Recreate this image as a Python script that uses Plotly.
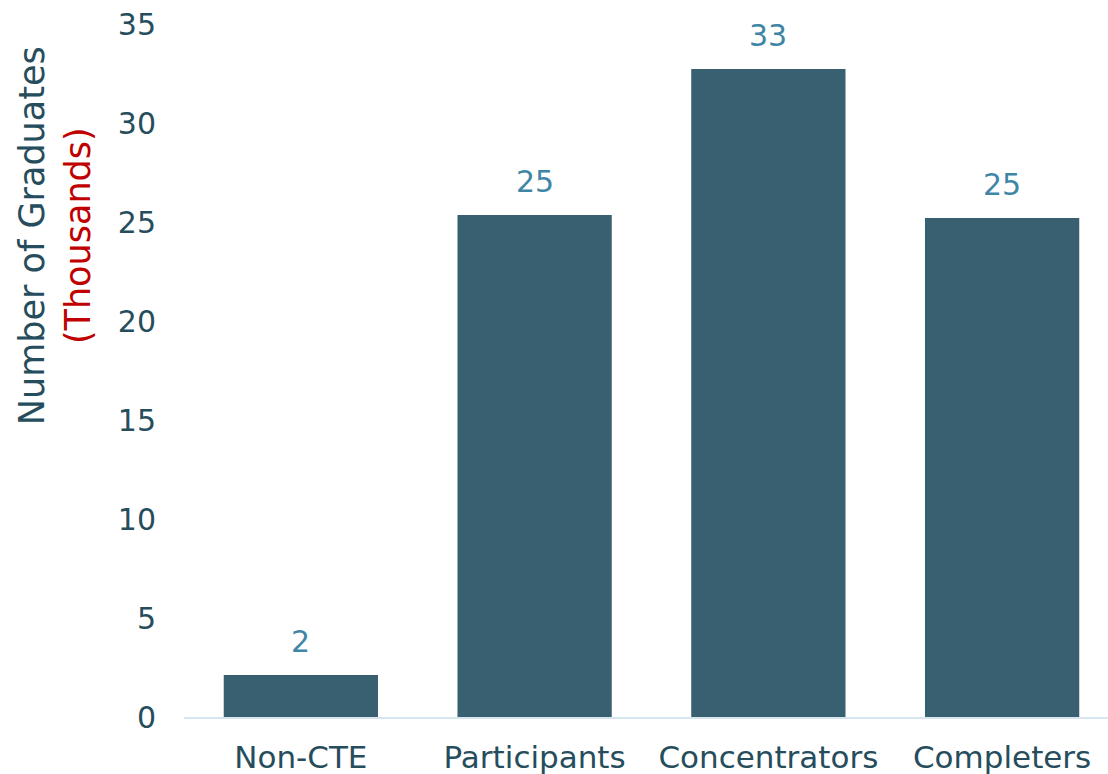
import plotly.graph_objects as go

categories = ["Non-CTE", "Participants", "Concentrators", "Completers"]
values = [2.12, 25.35, 32.73, 25.2]
labels = ["2", "25", "33", "25"]
y_ticks = [0, 5, 10, 15, 20, 25, 30, 35]

BAR = "#386071"
TXT = "#264d5c"
LBL = "#3f86a6"
FONT = "DejaVu Sans"

fig = go.Figure()
fig.add_trace(go.Bar(x=categories, y=values, marker=dict(color=BAR, line=dict(width=0)),
                     hoverinfo="skip"))

for c, v, t in zip(categories, values, labels):
    fig.add_annotation(x=c, y=v, text=t, showarrow=False, yanchor="bottom",
                       yshift=14, font=dict(family=FONT, size=30, color=LBL))

fig.add_annotation(xref="paper", yref="paper", x=-0.1395, y=0.694,
                   text="Number of Graduates<br><span style='color:#c00000'>(Thousands)</span>",
                   textangle=-90, showarrow=False, xanchor="center", yanchor="middle",
                   font=dict(family=FONT, size=35, color=TXT))

fig.update_layout(
    width=1108, height=774,
    margin=dict(l=184, r=0, t=24, b=57, autoexpand=False),
    paper_bgcolor="white", plot_bgcolor="white",
    bargap=0.34, showlegend=False,
    font=dict(family=FONT, size=30, color=TXT),
)
fig.update_xaxes(range=[-0.5, 3.453], showgrid=False, showline=True, linecolor="#d6e6f0",
                 linewidth=2, ticks="outside", ticklen=12, tickcolor="rgba(0,0,0,0)",
                 tickfont=dict(family=FONT, size=31, color=TXT))
fig.update_yaxes(range=[0, 35], tickvals=y_ticks, showgrid=False, zeroline=False,
                 showline=False, ticks="outside", ticklen=21, tickcolor="rgba(0,0,0,0)",
                 tickfont=dict(family=FONT, size=30, color=TXT))

fig.write_html("out.html", config={"displayModeBar": False},
               post_script="document.body.style.margin='0';document.body.style.overflow='hidden';")
